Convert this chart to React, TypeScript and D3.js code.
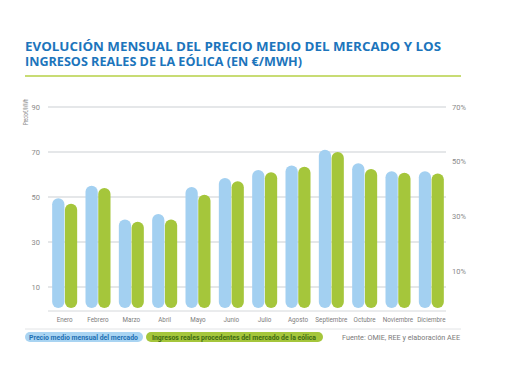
import React from "react";
import * as d3 from "d3";

const months = ["Enero", "Febrero", "Marzo", "Abril", "Mayo", "Junio", "Julio", "Agosto", "Septiembre", "Octubre", "Noviembre", "Diciembre"];
const precioMedio = [49.5, 55, 40, 42.5, 54.5, 58.5, 62, 64, 71, 65, 61.5, 61.5];
const ingresosEolica = [47, 54, 39, 40, 51, 57, 61, 63.5, 70, 62.5, 60.8, 60.5];
const leftTicks = [10, 30, 50, 70, 90];
const rightTicks = [10, 30, 50, 70];
const seriesNames = ["Precio medio mensual del mercado", "Ingresos reales procedentes del mercado de la eólica"];

const W = 510, H = 382;
const BLUE = "#a3d0f1";
const GREEN = "#a5c63b";
const TITLE = "#1c75bc";
const FONT = "'Roboto', 'Liberation Sans', sans-serif";

export default function App() {
  const x0 = d3.scaleBand<string>().domain(months).range([48, 448]).paddingInner(0.25).paddingOuter(0.125);
  const x1 = d3.scaleBand<string>().domain(["p", "i"]).range([0, x0.bandwidth()]).paddingInner(0.04);
  const y = d3.scaleLinear().domain([0, 90]).range([309.5, 107]);
  const yR = d3.scaleLinear().domain([10, 70]).range([271, 107]);
  const bottom = y(0) - 1.5;
  const series = [
    { key: "p", values: precioMedio, color: BLUE },
    { key: "i", values: ingresosEolica, color: GREEN },
  ];
  const bw = x1.bandwidth();

  return (
    <svg width={W} height={H} style={{ position: "absolute", left: 0, top: 0, background: "#fff" }} fontFamily={FONT}>
      <text x={25} y={51} fill={TITLE} fontFamily="'Open Sans', sans-serif" fontWeight={700} fontSize={11.5} textLength={416} lengthAdjust="spacingAndGlyphs">
        EVOLUCIÓN MENSUAL DEL PRECIO MEDIO DEL MERCADO Y LOS
      </text>
      <text x={25} y={66} fill={TITLE} fontFamily="'Open Sans', sans-serif" fontWeight={700} fontSize={11.5} textLength={277} lengthAdjust="spacingAndGlyphs">
        INGRESOS REALES DE LA EÓLICA (EN €/MWH)
      </text>
      <line x1={25} x2={461} y1={76} y2={76} stroke="#c8dc74" strokeWidth={2} />

      <text transform={`translate(28,112) rotate(-90)`} textAnchor="middle" fontSize={7} fill="#8a8a8a" textLength={26} lengthAdjust="spacingAndGlyphs">Precio€/MWh</text>

      {leftTicks.map((t) => (
        <g key={t}>
          <line x1={48} x2={446} y1={y(t)} y2={y(t)} stroke="#dcdfe2" strokeWidth={1.4} />
          <text x={40} y={y(t)} dy="0.35em" textAnchor="end" fontSize={7.5} fill="#8a8a8a">{t}</text>
        </g>
      ))}
      {rightTicks.map((t) => (
        <text key={t} x={452} y={yR(t)} dy="0.35em" fontSize={7.5} fill="#8a8a8a">{t}%</text>
      ))}
      <line x1={48} x2={446} y1={311} y2={311} stroke="#d5d8db" strokeWidth={1} />

      {months.map((m, i) => (
        <g key={m} transform={`translate(${x0(m)},0)`}>
          {series.map((s) => (
            <rect key={s.key} x={x1(s.key)} y={y(s.values[i])} width={bw} height={bottom - y(s.values[i])} rx={bw / 2} ry={bw / 2} fill={s.color} />
          ))}
          <text x={x0.bandwidth() / 2} y={322} textAnchor="middle" fontSize={6.3} fill="#7d7d7d">{m}</text>
        </g>
      ))}

      <line x1={25} x2={461} y1={329} y2={329} stroke="#e2e4e6" strokeWidth={1} />
      <rect x={25} y={332} width={118} height={10} rx={5} fill="#a9d4f2" />
      <text x={29} y={339.5} fontSize={6.8} fontWeight={700} fill="#1d6fb4" textLength={109} lengthAdjust="spacingAndGlyphs">{seriesNames[0]}</text>
      <rect x={146} y={332} width={177} height={10} rx={5} fill={GREEN} />
      <text x={152} y={339.5} fontSize={6.8} fontWeight={700} fill="#3e6b12" textLength={164} lengthAdjust="spacingAndGlyphs">{seriesNames[1]}</text>
      <text x={342} y={340} fontSize={7.5} fill="#7a7a7a" textLength={118} lengthAdjust="spacingAndGlyphs">Fuente: OMIE, REE y elaboración AEE</text>
    </svg>
  );
}
